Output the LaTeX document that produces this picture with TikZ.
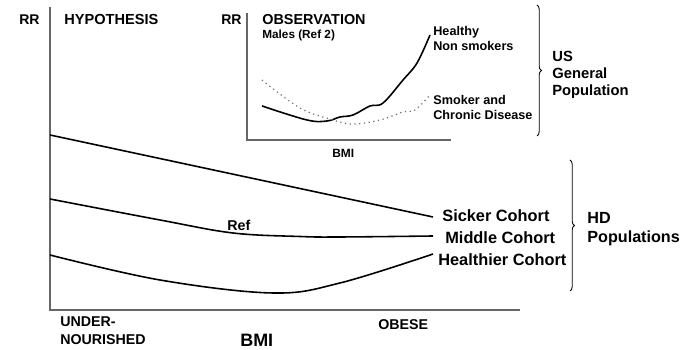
\documentclass[tikz,border=0pt]{standalone}
\usepackage{fontspec}
\setmainfont{Liberation Sans}
\usetikzlibrary{decorations.pathreplacing}
\tikzset{
  lbl/.style={anchor=base west, inner sep=0pt, font=\bfseries\fontsize{#1}{#1}\selectfont},
  axisline/.style={draw=black!60, line width=0.6pt},
  riskcurve/.style={line width=0.9pt, smooth, tension=0.6},
  popbrace/.style={decorate, decoration={brace, amplitude=2.5pt}, line width=0.5pt}
}
\begin{document}
\begin{tikzpicture}[x=0.02cm, y=-0.02cm]
			%%%%% START %%%%%
			\useasboundingbox (0, 0) rectangle (681, 350);

			% main axes
			\draw[axisline] (50, 7) -- (50, 310) -- (520, 310);
			\node[lbl=8] (rrmain) at (19, 25) {RR};
			\node[lbl=8.3] (hypo) at (64, 25) {HYPOTHESIS};

			% inset axes
			\draw[axisline] (247, 13) -- (247, 140) -- (451, 140);
			\node[lbl=8] (rrinset) at (221, 25) {RR};
			\node[lbl=8.2] (obs) at (262, 25) {OBSERVATION};
			\node[lbl=6.7] (males) at (262, 39) {Males (Ref 2)};
			\node[lbl=6.8] (bmiinset) at (332, 158) {BMI};

			% inset curves
			\draw[riskcurve] plot coordinates {(262, 106) (307, 120) (327, 121) (340, 117) (353, 115) (370, 106) (383, 103) (403, 80) (417, 63) (430, 35)};
			\draw[line width=0.7pt, black!55, dotted, smooth, tension=0.6] plot coordinates {(262, 80) (300, 108) (333, 120) (353, 124) (380, 120) (403, 112) (415, 110) (430, 95)};
			\node[lbl=7.2] (healthy) at (433, 36) {Healthy};
			\node[lbl=7.2] (nonsmk) at (433, 51) {Non smokers};
			\node[lbl=7.2] (smoker) at (433, 105) {Smoker and};
			\node[lbl=7.2] (chronic) at (433, 120) {Chronic Disease};

			\draw[popbrace] (537, 5) -- (537, 136);
			\node[lbl=8.4] (us) at (552, 62) {US};
			\node[lbl=8.4] (general) at (552, 79) {General};
			\node[lbl=8.4] (popul) at (552, 96) {Population};

			% hypothesis curves
			\draw[riskcurve] (50, 135) -- (433, 217);
			\draw[riskcurve] plot coordinates {(50, 199) (160, 220) (233, 233) (300, 236.5) (340, 237) (433, 236)};
			\draw[riskcurve] plot coordinates {(50, 255) (160, 280) (273, 293) (340, 283) (433, 254)};
			\node[lbl=8.1] (ref) at (227, 231) {Ref};

			\node[lbl=9.3] (sicker) at (442, 222) {Sicker Cohort};
			\node[lbl=9.3] (middle) at (445, 244) {Middle Cohort};
			\node[lbl=9.3] (healthier) at (438, 266) {Healthier Cohort};

			\draw[popbrace] (570, 160) -- (570, 291);
			\node[lbl=9.2] (hd) at (587, 224) {HD};
			\node[lbl=9.2] (hdpop) at (587, 243) {Populations};

			% x axis labels
			\node[lbl=8.1] (under) at (60, 327) {UNDER-};
			\node[lbl=8.1] (nourished) at (60, 345) {NOURISHED};
			\node[lbl=10.2] (bmimain) at (240, 347) {BMI};
			\node[lbl=8.1] (obese) at (378, 330) {OBESE};
			%%%%% END %%%%%
\end{tikzpicture}
\end{document}
